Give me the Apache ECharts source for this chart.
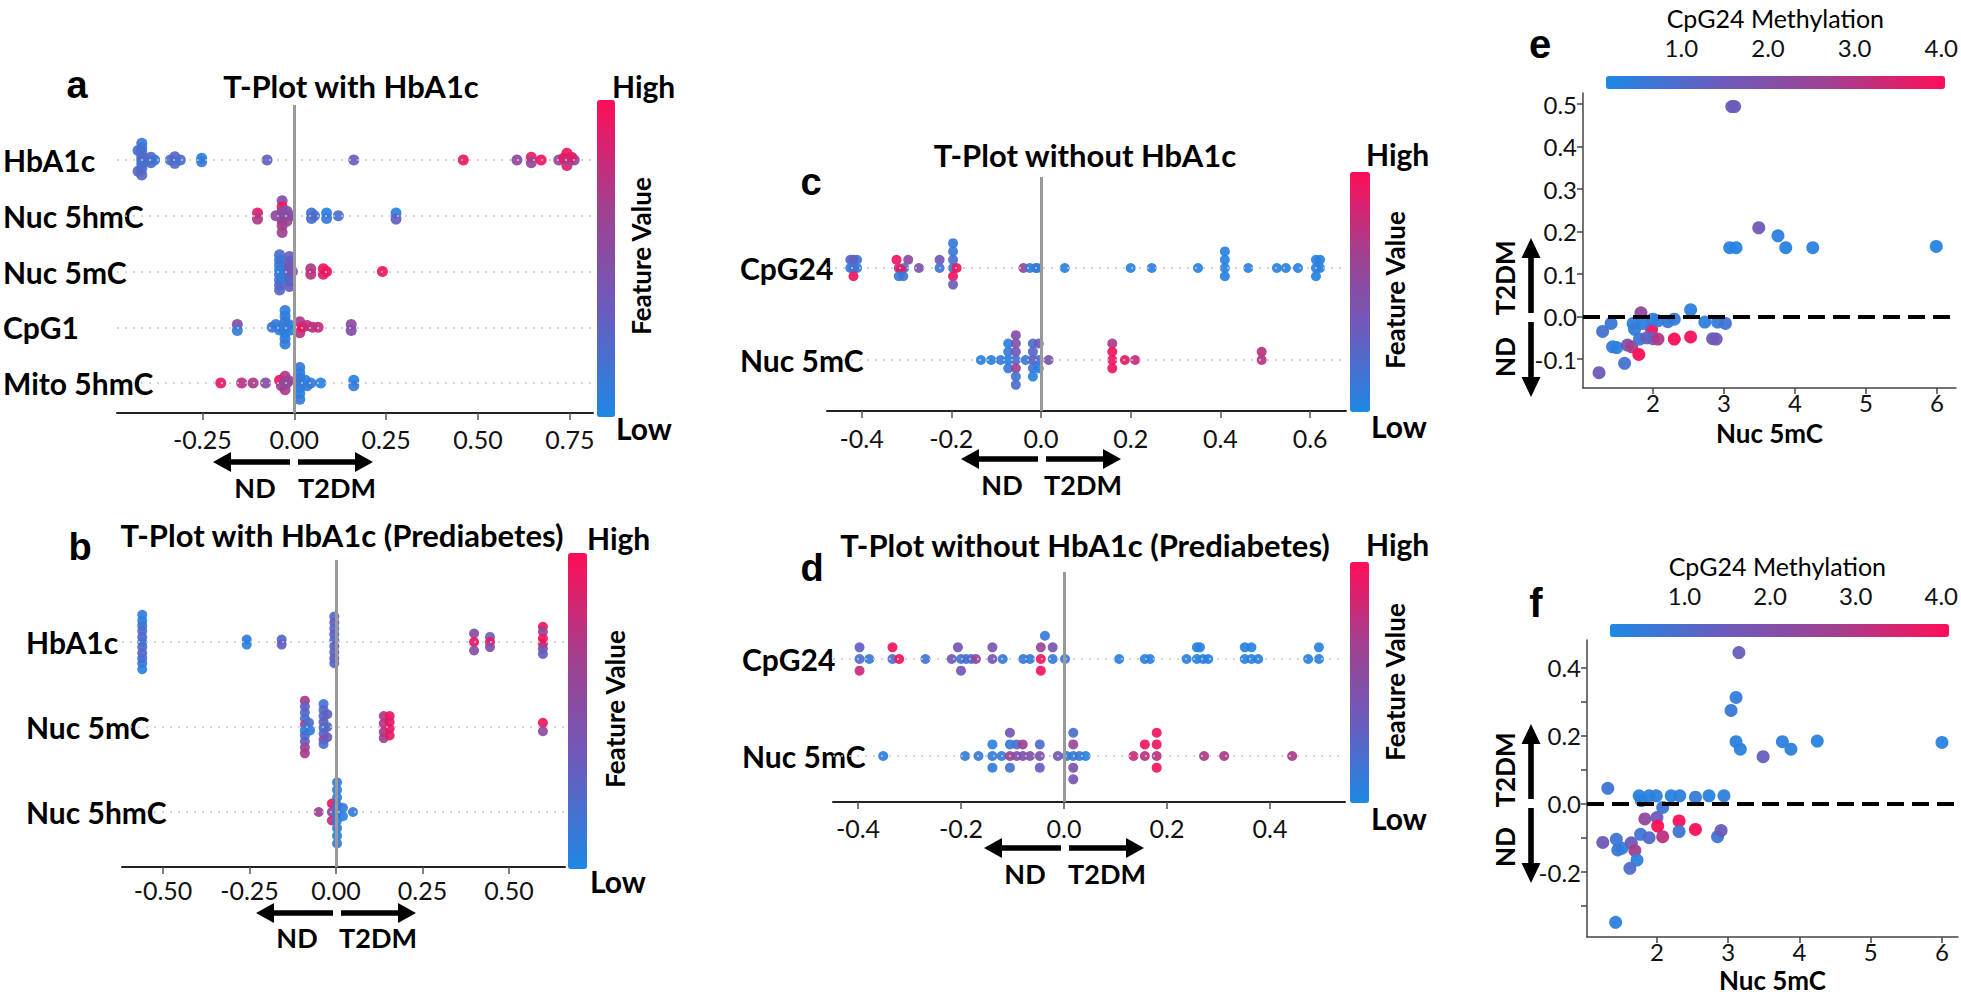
<!DOCTYPE html>
<html><head><meta charset="utf-8">
<script src="https://cdn.jsdelivr.net/npm/echarts@6/dist/echarts.min.js"></script>
<style>html,body{margin:0;padding:0;background:#fff}#c{width:1961px;height:999px}</style>
</head><body><div id="c"></div>
<script>
// ---------------- DATA ----------------
// beeswarm points: [SHAP value, vertical jitter (row units), normalised feature value 0..1]
const rowsA = ['HbA1c','Nuc 5hmC','Nuc 5mC','CpG1','Mito 5hmC'];
const a_HbA1c = [[-0.415,-0.3,0.15],[-0.415,-0.22,0.1],[-0.415,-0.14,0.2],[-0.415,-0.06,0.15],[-0.415,0,0.25],[-0.415,0.07,0.1],[-0.415,0.15,0.2],[-0.415,0.27,0.25],
 [-0.425,-0.17,0.2],[-0.425,0.2,0.25],[-0.40,0,0.2],[-0.39,-0.05,0.25],[-0.39,0.05,0.2],[-0.38,0,0.15],
 [-0.337,0,0.2],[-0.325,-0.06,0.25],[-0.325,0.06,0.2],[-0.31,0,0.2],[-0.252,-0.03,0.05],[-0.252,0.03,0.1],
 [-0.074,0,0.3],[0.162,0,0.3],[0.46,0,0.92],[0.606,0,0.55],[0.645,-0.05,0.9],[0.645,0.05,0.6],[0.672,0,0.95],
 [0.72,0,0.6],[0.733,-0.03,0.9],[0.742,-0.12,0.95],[0.742,0.1,0.85],[0.75,0,0.6],[0.762,0,0.55],[0.755,-0.05,0.9]];
const a_Nuc5hmC = [[-0.10,-0.05,0.9],[-0.10,0.06,0.7],
 [-0.033,-0.27,0.5],[-0.033,-0.16,0.95],[-0.033,-0.08,0.55],[-0.033,0,0.5],[-0.033,0.09,0.65],[-0.033,0.18,0.7],[-0.033,0.3,0.65],
 [-0.05,0,0.55],[-0.018,0,0.45],[-0.01,0,0.5],[-0.02,-0.08,0.5],[-0.02,0.1,0.6],
 [0.047,-0.05,0.15],[0.047,0.05,0.2],[0.055,0,0.2],[0.088,-0.05,0.05],[0.088,0.05,0.1],[0.12,0,0.2],
 [0.277,-0.05,0.05],[0.277,0.06,0.3]];
const a_Nuc5mC = [[-0.04,-0.3,0.2],[-0.04,-0.21,0.1],[-0.04,-0.12,0.15],[-0.04,-0.03,0.05],[-0.04,0.06,0.1],[-0.04,0.15,0.15],[-0.04,0.24,0.2],[-0.04,0.33,0.25],
 [-0.028,-0.05,0.1],[-0.028,0.1,0.05],
 [-0.013,-0.27,0.35],[-0.013,-0.18,0.3],[-0.013,-0.09,0.4],[-0.013,0,0.35],[-0.013,0.09,0.3],[-0.013,0.18,0.25],[-0.013,0.27,0.3],
 [-0.005,0,0.4],[0.045,-0.05,0.7],[0.045,0.05,0.75],[0.079,-0.05,0.95],[0.079,0.05,0.9],[0.088,0,0.95],[0.24,0,0.95]];
const a_CpG1 = [[-0.155,-0.05,0.5],[-0.155,0.06,0.1],
 [-0.025,-0.3,0.1],[-0.025,-0.2,0.05],[-0.025,-0.1,0.1],[-0.025,0,0.05],[-0.025,0.1,0.1],[-0.025,0.2,0.05],[-0.025,0.3,0.1],
 [-0.06,0,0.15],[-0.05,-0.05,0.1],[-0.04,0.05,0.05],[-0.015,-0.05,0.1],[-0.01,0.05,0.05],[-0.035,0,0.1],
 [0.015,-0.1,0.7],[0.015,0.1,0.75],[0.022,0,0.95],[0.035,-0.03,0.8],[0.05,0,0.75],[0.065,0,0.8],
 [0.155,-0.05,0.55],[0.155,0.06,0.5]];
const a_Mito5hmC = [[-0.2,0,0.9],[-0.143,0,0.75],[-0.112,0,0.7],[-0.078,0,0.5],
 [-0.04,-0.05,0.95],[-0.035,0.05,0.6],[-0.025,-0.12,0.75],[-0.025,0.12,0.7],[-0.02,0,0.5],[-0.015,-0.04,0.6],
 [0.015,-0.28,0.1],[0.015,-0.18,0.05],[0.015,-0.09,0.1],[0.015,0,0.15],[0.015,0.09,0.1],[0.015,0.19,0.05],[0.015,0.29,0.1],
 [0.03,-0.05,0.05],[0.035,0.05,0.1],[0.045,0,0.1],[0.072,0,0.05],[0.162,-0.05,0.05],[0.162,0.05,0.1]];

const rowsB = ['HbA1c','Nuc 5mC','Nuc 5hmC'];
const b_HbA1c = [[-0.56,-0.32,0.1],[-0.56,-0.25,0.05],[-0.56,-0.19,0.15],[-0.56,-0.13,0.2],[-0.56,-0.06,0.25],[-0.56,0,0.15],[-0.56,0.06,0.2],[-0.56,0.13,0.25],[-0.56,0.19,0.2],[-0.56,0.25,0.15],[-0.56,0.32,0.05],
 [-0.258,-0.03,0.1],[-0.258,0.03,0.05],[-0.157,-0.03,0.25],[-0.157,0.03,0.3],
 [-0.005,-0.3,0.25],[-0.005,-0.23,0.3],[-0.005,-0.16,0.25],[-0.005,-0.09,0.3],[-0.005,-0.02,0.25],[-0.005,0.05,0.3],[-0.005,0.12,0.25],[-0.005,0.19,0.3],[-0.005,0.25,0.25],
 [0.399,-0.1,0.5],[0.399,0,0.95],[0.399,0.1,0.5],[0.445,-0.06,0.35],[0.445,0,0.95],[0.445,0.06,0.5],
 [0.598,-0.18,0.95],[0.598,-0.12,0.55],[0.598,-0.04,0.95],[0.598,0.02,0.95],[0.598,0.08,0.5],[0.598,0.14,0.3]];
const b_Nuc5mC = [[-0.09,-0.31,0.7],[-0.09,-0.24,0.3],[-0.09,-0.17,0.25],[-0.09,-0.1,0.2],[-0.09,-0.03,0.6],[-0.09,0.04,0.05],[-0.09,0.1,0.2],[-0.09,0.17,0.3],[-0.09,0.24,0.6],[-0.09,0.31,0.7],
 [-0.078,-0.05,0.2],[-0.075,0.04,0.1],
 [-0.036,-0.27,0.15],[-0.036,-0.2,0.25],[-0.036,-0.13,0.2],[-0.036,-0.06,0.3],[-0.036,0.01,0.2],[-0.036,0.08,0.25],[-0.036,0.15,0.6],[-0.036,0.2,0.2],
 [-0.025,-0.15,0.3],[-0.025,0,0.25],[-0.025,0.12,0.35],
 [0.138,-0.13,0.7],[0.138,-0.04,0.75],[0.138,0.06,0.7],[0.138,0.13,0.65],[0.155,-0.13,0.95],[0.155,-0.06,0.9],[0.155,0.02,0.95],[0.155,0.1,0.9],
 [0.598,-0.05,0.95],[0.598,0.05,0.55]];
const b_Nuc5hmC = [[-0.05,0,0.65],[-0.012,-0.1,0.95],[-0.012,0,0.55],[-0.012,0.1,0.8],
 [0.003,-0.35,0.1],[0.003,-0.26,0.05],[0.003,-0.17,0.1],[0.003,-0.08,0.15],[0.003,0.01,0.1],[0.003,0.1,0.05],[0.003,0.19,0.1],[0.003,0.28,0.05],[0.003,0.37,0.1],
 [0.02,-0.05,0.1],[0.02,0.05,0.05],[0.049,0,0.1]];

const rowsC = ['CpG24','Nuc 5mC'];
const c_CpG24 = [[-0.425,-0.09,0.25],[-0.41,-0.09,0.1],[-0.418,-0.09,0.3],[-0.425,0,0.1],[-0.41,0,0.1],[-0.418,0,0.15],[-0.418,0.09,0.95],
 [-0.322,-0.09,0.95],[-0.296,-0.09,0.55],[-0.317,0,0.8],[-0.305,0,0.2],[-0.312,0.02,0.95],[-0.272,0,0.45],[-0.317,0.09,0.1],[-0.307,0.09,0.15],
 [-0.226,-0.09,0.4],[-0.226,0,0.15],
 [-0.196,-0.27,0.1],[-0.196,-0.18,0.1],[-0.196,-0.09,0.2],[-0.196,0,0.15],[-0.188,0,0.95],[-0.196,0.09,0.95],[-0.196,0.18,0.35],
 [-0.039,0,0.6],[-0.025,0,0.1],[-0.012,0,0.05],[-0.008,0,0.1],
 [0.053,0,0.05],[0.2,0,0.05],[0.247,0,0.05],[0.35,0,0.05],
 [0.41,-0.18,0.05],[0.41,-0.09,0.05],[0.41,0,0.05],[0.41,0.09,0.05],
 [0.462,0,0.05],[0.526,0,0.05],[0.546,0,0.05],[0.573,0,0.05],
 [0.613,-0.09,0.05],[0.613,0,0.05],[0.613,0.09,0.05],[0.622,-0.09,0.05],[0.622,0,0.05]];
const c_Nuc5mC = [[-0.134,0,0.05],[-0.111,0,0.05],[-0.09,0,0.1],
 [-0.073,-0.18,0.05],[-0.073,-0.09,0.1],[-0.073,0,0.05],[-0.073,0.09,0.1],
 [-0.056,-0.27,0.5],[-0.056,-0.18,0.45],[-0.056,-0.09,0.4],[-0.056,0,0.2],[-0.056,0.09,0.65],[-0.056,0.18,0.15],[-0.056,0.27,0.2],
 [-0.034,0,0.1],
 [-0.018,-0.18,0.2],[-0.018,-0.09,0.25],[-0.018,0,0.3],[-0.018,0.09,0.15],[-0.018,0.18,0.05],
 [-0.005,-0.18,0.35],[-0.005,0,0.2],[-0.005,0.09,0.05],[0.017,0,0.45],
 [0.159,-0.18,0.7],[0.159,-0.09,0.95],[0.159,0,0.95],[0.159,0.09,0.95],[0.187,0,0.9],[0.21,0,0.8],
 [0.492,-0.09,0.75],[0.492,0,0.75]];

const rowsD = ['CpG24','Nuc 5mC'];
const d_CpG24 = [[-0.397,-0.12,0.3],[-0.397,0,0.2],[-0.397,0.12,0.8],[-0.378,0,0.1],
 [-0.333,-0.12,0.95],[-0.333,0,0.2],[-0.32,0,0.95],[-0.269,0,0.15],
 [-0.218,0,0.4],[-0.206,-0.12,0.4],[-0.2,0.12,0.4],[-0.2,0,0.15],[-0.19,0,0.2],[-0.18,0,0.15],[-0.171,0,0.6],
 [-0.139,-0.12,0.4],[-0.139,0,0.4],[-0.119,0,0.1],[-0.079,0,0.1],[-0.066,0,0.1],
 [-0.045,-0.12,0.6],[-0.045,0,0.95],[-0.045,0.12,0.95],[-0.037,-0.24,0.1],[-0.022,-0.12,0.4],[-0.022,0,0.1],
 [0.002,0,0.1],[0.107,0,0.05],[0.157,0,0.05],[0.167,0,0.05],
 [0.238,0,0.05],[0.258,-0.12,0.05],[0.264,-0.12,0.05],[0.258,0,0.05],[0.27,0,0.05],[0.28,0,0.05],
 [0.351,-0.12,0.05],[0.364,-0.12,0.05],[0.351,0,0.05],[0.364,0,0.05],[0.377,0,0.05],
 [0.474,0,0.05],[0.495,-0.12,0.05],[0.495,0,0.05]];
const d_Nuc5mC = [[-0.351,0,0.05],[-0.192,0,0.1],[-0.166,0,0.1],
 [-0.139,-0.12,0.05],[-0.139,0,0.1],[-0.139,0.12,0.1],[-0.121,0,0.1],
 [-0.105,-0.24,0.4],[-0.105,-0.12,0.1],[-0.105,0,0.65],[-0.105,0.12,0.15],
 [-0.092,-0.12,0.2],[-0.092,0,0.5],[-0.08,-0.12,0.65],[-0.08,0,0.45],[-0.066,0,0.45],
 [-0.047,-0.12,0.2],[-0.047,0,0.45],[-0.047,0.12,0.3],
 [-0.012,0,0.4],[0.005,0,0.1],
 [0.018,-0.24,0.2],[0.018,-0.12,0.6],[0.018,0,0.1],[0.018,0.12,0.45],[0.018,0.24,0.4],[0.03,0,0.1],[0.042,0,0.05],
 [0.135,0,0.8],[0.157,-0.12,0.95],[0.157,0,0.75],[0.18,-0.24,0.95],[0.18,-0.12,0.95],[0.18,0,0.75],[0.18,0.12,0.95],
 [0.272,0,0.7],[0.311,0,0.7],[0.443,0,0.7]];

// dependence plots: [Nuc 5mC, SHAP value, CpG24 methylation]
const e_points = [[3.11,0.494,1.5],[3.15,0.494,1.45],
 [3.49,0.209,1.6],[3.76,0.19,0.4],[3.87,0.162,0.3],[4.25,0.162,0.35],[5.99,0.165,0.3],[3.08,0.162,0.35],[3.17,0.162,0.3],
 [1.83,0.009,2.3],[2.53,0.016,0.4],[1.98,-0.03,3.9],
 [1.41,-0.016,0.6],[1.29,-0.035,0.8],[1.72,-0.016,0.4],[1.74,-0.03,0.5],[1.86,-0.016,0.4],[2.0,-0.006,0.4],[2.07,-0.01,0.5],[2.21,-0.012,0.6],[2.3,-0.006,0.5],[2.73,-0.013,0.4],[2.91,-0.013,0.5],[3.02,-0.016,0.7],
 [1.43,-0.071,0.5],[1.49,-0.073,0.4],[1.64,-0.067,1.7],[1.7,-0.071,2.8],[1.8,-0.089,4.0],[1.81,-0.053,0.6],[1.91,-0.05,1.3],[2.0,-0.052,1.2],[2.07,-0.053,3.0],[2.3,-0.053,4.0],[2.53,-0.048,3.9],[2.84,-0.052,1.5],[2.89,-0.053,1.6],[1.6,-0.11,0.8],[1.24,-0.132,1.6]];
const f_points = [[3.15,0.445,1.4],[3.11,0.313,0.5],[3.04,0.275,0.6],[3.11,0.183,0.4],[3.17,0.161,0.3],[3.49,0.139,1.4],[3.76,0.183,0.4],[3.88,0.161,0.4],[4.25,0.185,0.3],[6.0,0.181,0.3],
 [1.31,0.046,0.7],
 [1.75,0.024,0.3],[1.78,0.01,0.4],[1.89,0.024,0.3],[1.99,0.024,0.4],[2.2,0.024,0.3],[2.32,0.024,0.4],[2.54,0.02,0.5],[2.73,0.024,0.3],[2.94,0.024,0.4],
 [2.08,-0.01,0.6],
 [1.83,-0.044,2.3],[2.0,-0.04,1.4],[2.01,-0.065,4.0],[2.08,-0.096,3.1],[2.31,-0.05,4.0],[2.31,-0.081,0.7],[2.54,-0.075,4.0],[2.85,-0.096,0.7],[2.9,-0.078,1.5],
 [1.77,-0.089,0.7],[1.89,-0.099,1.0],
 [1.24,-0.113,1.6],[1.43,-0.104,0.7],[1.45,-0.135,0.6],[1.51,-0.13,0.5],[1.64,-0.114,1.5],[1.69,-0.137,2.8],[1.72,-0.165,0.4],[1.62,-0.189,1.0],[1.42,-0.348,0.4]];

// tick values
const ticksA = [-0.25,0,0.25,0.5,0.75];
const ticksB = [-0.5,-0.25,0,0.25,0.5];
const ticksC = [-0.4,-0.2,0,0.2,0.4,0.6];
const ticksD = [-0.4,-0.2,0,0.2,0.4];
const ticksDepX = [2,3,4,5,6];
const ticksEy = [-0.1,0,0.1,0.2,0.3,0.4,0.5];
const ticksFy = [-0.3,-0.2,-0.1,0,0.1,0.2,0.3,0.4];
const labelsFy = [-0.2,0,0.2,0.4];
const cbRange = [0.13,4.04];
const cbTicks = [0.5,1,1.5,2,2.5,3,3.5,4];
const cbLabels = [1,2,3,4];

// ---------------- CHART ----------------
const FONT = 'Lato, "Liberation Sans", sans-serif';
const PAL = ['#1E88E5','#6A5CBD','#A2408F','#FF0D57'];
const grids=[], xAxes=[], yAxes=[], series=[], vms=[], gfx=[];

function addSwarm(p){
  const gi = grids.length;
  grids.push({left:p.L, top:p.T, width:p.R-p.L, height:p.B-p.T});
  xAxes.push({type:'value', gridIndex:gi, min:p.xmin, max:p.xmax, splitLine:{show:false},
    axisLine:{show:true, onZero:false, lineStyle:{color:'#222', width:2}},
    axisTick:{show:true, customValues:p.ticks, length:7, lineStyle:{color:'#555', width:1.5}},
    axisLabel:{customValues:p.ticks, formatter:v=>(+v).toFixed(p.dec), fontSize:25, fontFamily:FONT, color:'#111', margin:p.tm}});
  yAxes.push({type:'value', gridIndex:gi, inverse:true, min:p.ymin, max:p.ymax, splitLine:{show:false},
    axisLine:{show:false, onZero:false}, axisTick:{show:false},
    axisLabel:{customValues:p.names.map((_,i)=>i), formatter:v=>p.names[Math.round(v)]||'', align:'left', margin:p.lm,
      fontSize:30, fontWeight:'bold', fontFamily:FONT, color:'#000'}});
  series.push({type:'scatter', xAxisIndex:gi, yAxisIndex:gi, data:[[0,0]], symbolSize:0, silent:true, z:1,
    markLine:{silent:true, symbol:'none', animation:false, label:{show:false},
      data:[...p.names.map((_,i)=>({yAxis:i, lineStyle:{type:[2,6], color:'#c8c8c8', width:1.5}})),
            {xAxis:0, lineStyle:{type:'solid', color:'#999', width:3}}]}});
  const si = series.length;
  series.push({type:'scatter', xAxisIndex:gi, yAxisIndex:gi, symbolSize:p.size, z:3, itemStyle:{opacity:0.92},
    data:p.rows.flatMap((r,i)=>r.map(d=>[d[0], i+d[1], d[2]]))});
  vms.push({type:'continuous', seriesIndex:si, dimension:2, min:0, max:1, orient:'vertical', left:p.cb[0], top:p.cb[1],
    itemWidth:p.cb[2], itemHeight:p.cb[3], calculable:false, padding:0, hoverLink:false, inRange:{color:PAL}});
}

function addDep(p){
  const gi = grids.length;
  grids.push({left:p.L, top:p.T, width:p.R-p.L, height:p.B-p.T});
  xAxes.push({type:'value', gridIndex:gi, min:p.xmin, max:p.xmax, splitLine:{show:false},
    axisLine:{show:true, onZero:false, lineStyle:{color:'#444', width:1.5}},
    axisTick:{show:true, customValues:ticksDepX, length:6, lineStyle:{color:'#444', width:1.5}},
    axisLabel:{customValues:ticksDepX, formatter:v=>String(Math.round(v)), fontSize:24, fontFamily:FONT, color:'#111', margin:2},
    name:'Nuc 5mC', nameLocation:'middle', nameGap:p.ng, nameTextStyle:{fontSize:26, fontWeight:'bold', fontFamily:FONT, color:'#000'}});
  yAxes.push({type:'value', gridIndex:gi, min:p.ymin, max:p.ymax, splitLine:{show:false},
    axisLine:{show:true, onZero:false, lineStyle:{color:'#444', width:1.5}},
    axisTick:{show:true, customValues:p.yt, length:6, lineStyle:{color:'#444', width:1.5}},
    axisLabel:{customValues:p.yl, formatter:v=>(+v).toFixed(1), fontSize:24, fontFamily:FONT, color:'#111', margin:6}});
  const si = series.length;
  series.push({type:'scatter', xAxisIndex:gi, yAxisIndex:gi, symbolSize:13, z:3, itemStyle:{opacity:0.95}, data:p.data,
    markLine:{silent:true, symbol:'none', animation:false, label:{show:false},
      data:[{yAxis:0}], lineStyle:{type:[17,8], color:'#000', width:4}}});
  vms.push({type:'continuous', seriesIndex:si, dimension:2, min:cbRange[0], max:cbRange[1], orient:'horizontal',
    left:p.cb[0], top:p.cb[1], itemWidth:p.cb[3], itemHeight:p.cb[2], calculable:false, padding:0, hoverLink:false, inRange:{color:PAL}});
  // colour-bar scale
  const ci = grids.length;
  grids.push({left:p.cb[0], top:p.cb[1], width:p.cb[2], height:p.cb[3]});
  xAxes.push({type:'value', gridIndex:ci, position:'top', min:cbRange[0], max:cbRange[1], splitLine:{show:false},
    axisLine:{show:false}, axisTick:{show:true, customValues:cbTicks, length:13, lineStyle:{color:'#222', width:1.5}},
    axisLabel:{customValues:cbLabels, formatter:v=>(+v).toFixed(1), fontSize:24, fontFamily:FONT, color:'#111', margin:17},
    name:'CpG24 Methylation', nameLocation:'middle', nameGap:46, nameTextStyle:{fontSize:25, fontFamily:FONT, color:'#000'}});
  yAxes.push({type:'value', gridIndex:ci, show:false, min:0, max:1});
}

addSwarm({names:rowsA, rows:[a_HbA1c,a_Nuc5hmC,a_Nuc5mC,a_CpG1,a_Mito5hmC], L:115, R:593, T:105, B:413,
  xmin:-0.4824, xmax:0.813, ymin:-0.987, ymax:4.538, ticks:ticksA, dec:2, tm:13, lm:114, size:11, cb:[597,100,18,317]});
addSwarm({names:rowsB, rows:[b_HbA1c,b_Nuc5mC,b_Nuc5hmC], L:122, R:565, T:560, B:867,
  xmin:-0.6185, xmax:0.6618, ymin:-0.965, ymax:2.647, ticks:ticksB, dec:2, tm:10, lm:96, size:10, cb:[568,553,19,316]});
addSwarm({names:rowsC, rows:[c_CpG24,c_Nuc5mC], L:827, R:1346, T:177, B:411,
  xmin:-0.477, xmax:0.68, ymin:-0.989, ymax:1.554, ticks:ticksC, dec:1, tm:14, lm:87, size:10, cb:[1350,172,20,240]});
addSwarm({names:rowsD, rows:[d_CpG24,d_Nuc5mC], L:833, R:1345, T:572, B:802,
  xmin:-0.4485, xmax:0.5456, ymin:-0.897, ymax:1.474, ticks:ticksD, dec:1, tm:13, lm:91, size:10, cb:[1350,562,19,241]});
addDep({data:e_points, L:1583, R:1956, T:93, B:388, xmin:1.014, xmax:6.268, ymin:-0.168, ymax:0.526,
  yt:ticksEy, yl:ticksEy, ng:32, cb:[1606,76,339,13]});
addDep({data:f_points, L:1587, R:1958, T:640, B:937, xmin:1.018, xmax:6.225, ymin:-0.391, ymax:0.482,
  yt:ticksFy, yl:labelsFy, ng:30, cb:[1610,624,339,13]});

// ---------------- ANNOTATIONS ----------------
function txt(s,x,y,size,weight,opt){ opt=opt||{};
  gfx.push({type:'text', x:x, y:y, rotation:opt.rot||0, z:10,
    style:{text:s, fill:'#000', fontSize:size, fontWeight:weight, fontFamily:opt.fam||FONT, align:opt.align||'center', verticalAlign:'middle'}});
}
function hArrow(x1,x2,y){ const d=Math.sign(x2-x1), hx=x2-d*18;
  gfx.push({type:'polygon', z:10, shape:{points:[[x1,y-2.7],[hx,y-2.7],[hx,y-10],[x2,y],[hx,y+10],[hx,y+2.7],[x1,y+2.7]]}, style:{fill:'#000'}});
}
function vArrow(y1,y2,x){ const d=Math.sign(y2-y1), hy=y2-d*20;
  gfx.push({type:'polygon', z:10, shape:{points:[[x-2.8,y1],[x-2.8,hy],[x-9.5,hy],[x,y2],[x+9.5,hy],[x+2.8,hy],[x+2.8,y1]]}, style:{fill:'#000'}});
}
const PL = '"Liberation Sans", Arial, sans-serif';
txt('a',77,85,38,'bold',{fam:PL}); txt('b',80,547,38,'bold',{fam:PL}); txt('c',811,182,38,'bold',{fam:PL});
txt('d',812,568,38,'bold',{fam:PL}); txt('e',1540,44,40,'bold',{fam:PL}); txt('f',1536,603,40,'bold',{fam:PL});
txt('T-Plot with HbA1c',351,86,31,'bold'); txt('T-Plot with HbA1c (Prediabetes)',342,535,31,'bold');
txt('T-Plot without HbA1c',1085,155,31,'bold'); txt('T-Plot without HbA1c (Prediabetes)',1085,545,31,'bold');
[[612,86,616,428],[587,538,590,881],[1366,154,1371,426],[1366,544,1371,818]].forEach(q=>{
  txt('High',q[0],q[1],30,'bold',{align:'left'}); txt('Low',q[2],q[3],30,'bold',{align:'left'});
});
[[641,256],[615,709],[1395,290],[1395,682]].forEach(q=>txt('Feature Value',q[0],q[1],26,'bold',{rot:Math.PI/2}));
[[293,462,487,255,337],[336,913,937,297,378],[1041,459,484,1002,1083],[1064,848,873,1025,1107]].forEach(q=>{
  hArrow(q[0]-3,q[0]-80,q[1]); hArrow(q[0]+5,q[0]+80,q[1]);
  txt('ND',q[3],q[2],27,'bold'); txt('T2DM',q[4],q[2],27,'bold');
});
[[317,278,357],[803,770,847]].forEach(q=>{
  vArrow(q[0]-4,q[0]-79,1531); vArrow(q[0]+5,q[0]+80,1531);
  txt('T2DM',1505,q[1],26,'bold',{rot:Math.PI/2}); txt('ND',1505,q[2],26,'bold',{rot:Math.PI/2});
});

const chart = echarts.init(document.getElementById('c'), null, {renderer:'svg'});
chart.setOption({animation:false, backgroundColor:'#fff', grid:grids, xAxis:xAxes, yAxis:yAxes, series:series, visualMap:vms, graphic:gfx});
</script></body></html>
